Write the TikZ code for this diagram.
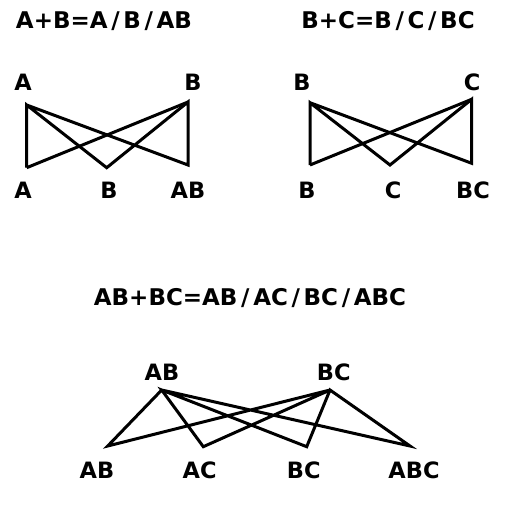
\documentclass[tikz,border=0pt]{standalone}
\usepackage{fontspec}
\setmainfont{DejaVu Sans}
\newcommand{\wsl}{\kern.16em/\kern.16em}
\begin{document}
\begin{tikzpicture}[x=1pt,y=-1pt,
  ttl/.style={font=\bfseries\fontsize{23}{23}\selectfont,inner sep=0pt,anchor=base},
  lbl/.style={font=\bfseries\fontsize{22.5}{22.5}\selectfont,inner sep=0pt,anchor=base},
  edge/.style={line width=3pt,line join=miter,line cap=butt}]
\useasboundingbox (0,0) rectangle (518,505);
% Panel 1
\node[ttl] (t1) at (104,28.3) {A+B=A\wsl B\wsl AB};
\node[lbl] (l1a) at (23,90.7) {A};
\node[lbl] (l1b) at (193,90.7) {B};
\node[lbl] (l1c) at (23,198.3) {A};
\node[lbl] (l1d) at (109,198.3) {B};
\node[lbl] (l1e) at (188,198.3) {AB};
\coordinate (p1a) at (26.7,105);
\coordinate (p1b) at (188,102);
\coordinate (p1c) at (26.7,167.7);
\coordinate (p1d) at (106.7,167.7);
\coordinate (p1e) at (188,165);
\draw[edge] (p1c) -- (p1a) -- (p1d) -- (p1b) -- (p1e) -- (p1a);
\draw[edge] (p1c) -- (p1b);
% Panel 2
\node[ttl] (t2) at (388,28.3) {B+C=B\wsl C\wsl BC};
\node[lbl] (l2a) at (302,90.7) {B};
\node[lbl] (l2b) at (472,90.7) {C};
\node[lbl] (l2c) at (307,198.3) {B};
\node[lbl] (l2d) at (393,198.3) {C};
\node[lbl] (l2e) at (473,198.3) {BC};
\coordinate (p2a) at (310,102.7);
\coordinate (p2b) at (471.7,99.3);
\coordinate (p2c) at (310,165);
\coordinate (p2d) at (390,165);
\coordinate (p2e) at (471.7,163.3);
\draw[edge] (p2c) -- (p2a) -- (p2d) -- (p2b) -- (p2e) -- (p2a);
\draw[edge] (p2c) -- (p2b);
% Panel 3
\node[ttl] (t3) at (250,305) {AB+BC=AB\wsl AC\wsl BC\wsl ABC};
\node[lbl] (l3a) at (162,380) {AB};
\node[lbl] (l3b) at (333.7,380) {BC};
\node[lbl] (l3c) at (97,478.3) {AB};
\node[lbl] (l3d) at (199.7,478.3) {AC};
\node[lbl] (l3e) at (303.7,478.3) {BC};
\node[lbl] (l3f) at (414,478.3) {ABC};
\coordinate (p3a) at (161.7,390);
\coordinate (p3b) at (330,390);
\coordinate (p3c) at (107.7,446);
\coordinate (p3d) at (203.3,446.7);
\coordinate (p3e) at (306.7,446.7);
\coordinate (p3f) at (410,446);
\draw[edge] (p3a) -- (p3c) -- (p3b) -- (p3d) -- (p3a) -- (p3e) -- (p3b) -- (p3f) -- (p3a);
\end{tikzpicture}
\end{document}
